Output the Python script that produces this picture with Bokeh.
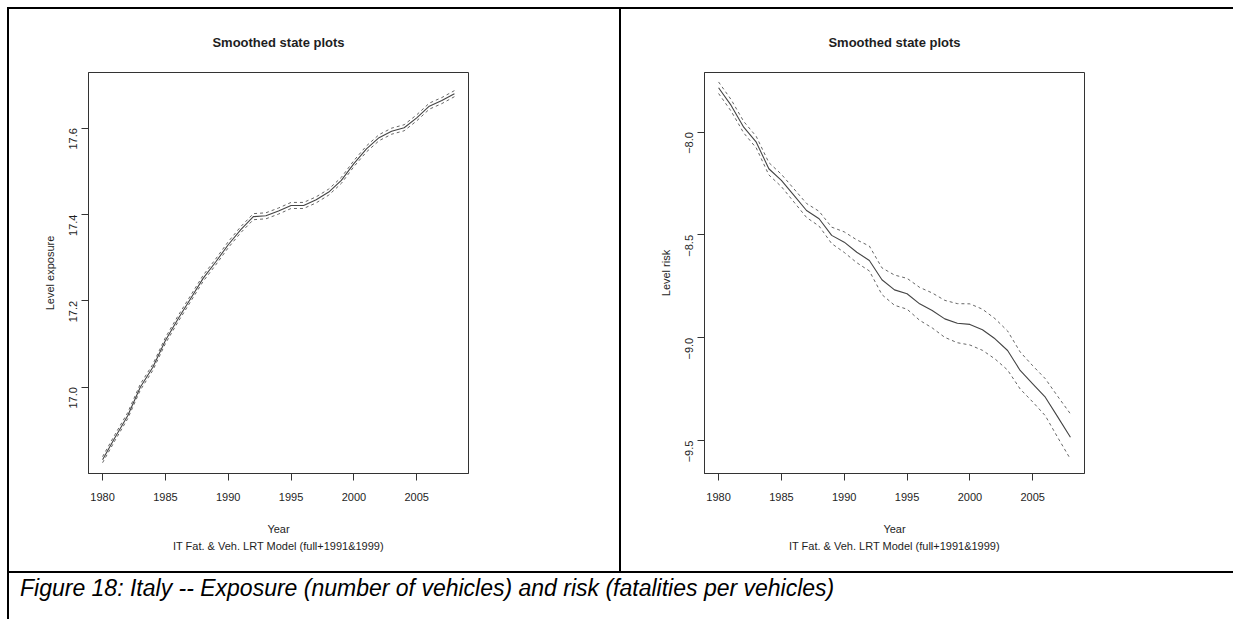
import math
from bokeh.plotting import figure
from bokeh.models import FixedTicker, Title, Div, Spacer, Range1d
from bokeh.layouts import column, row
from bokeh.embed import file_html
from bokeh.resources import INLINE

# ---------------- data ----------------
years = list(range(1980, 2009))

exposure_level = [16.832, 16.884, 16.934, 17.000, 17.046, 17.108, 17.158, 17.205, 17.252, 17.290,
                  17.330, 17.365, 17.395, 17.397, 17.408, 17.421, 17.421, 17.434, 17.452, 17.479,
                  17.518, 17.552, 17.578, 17.593, 17.601, 17.624, 17.651, 17.664, 17.680]
exposure_upper = [16.839, 16.891, 16.941, 17.007, 17.053, 17.115, 17.165, 17.212, 17.259, 17.297,
                  17.337, 17.372, 17.402, 17.404, 17.415, 17.428, 17.428, 17.441, 17.459, 17.486,
                  17.525, 17.559, 17.585, 17.600, 17.608, 17.631, 17.658, 17.671, 17.687]
exposure_lower = [16.825, 16.877, 16.927, 16.993, 17.039, 17.101, 17.151, 17.198, 17.245, 17.283,
                  17.323, 17.358, 17.388, 17.390, 17.401, 17.414, 17.414, 17.427, 17.445, 17.472,
                  17.511, 17.545, 17.571, 17.586, 17.594, 17.617, 17.644, 17.657, 17.673]

risk_level = [-7.784, -7.870, -7.976, -8.049, -8.178, -8.235, -8.308, -8.381, -8.421, -8.502,
              -8.535, -8.584, -8.624, -8.718, -8.767, -8.786, -8.835, -8.867, -8.908, -8.929,
              -8.935, -8.961, -9.005, -9.062, -9.159, -9.224, -9.289, -9.386, -9.484]
risk_upper = [-7.756, -7.842, -7.948, -8.021, -8.148, -8.205, -8.276, -8.347, -8.385, -8.462,
              -8.485, -8.524, -8.554, -8.660, -8.695, -8.711, -8.755, -8.782, -8.818, -8.834,
              -8.835, -8.861, -8.907, -8.967, -9.069, -9.136, -9.199, -9.286, -9.370]
risk_lower = [-7.812, -7.898, -8.004, -8.077, -8.208, -8.265, -8.340, -8.415, -8.457, -8.542,
              -8.585, -8.635, -8.675, -8.790, -8.842, -8.861, -8.915, -8.952, -8.998, -9.024,
              -9.035, -9.061, -9.103, -9.157, -9.249, -9.312, -9.379, -9.486, -9.590]

x_ticks = [1980, 1985, 1990, 1995, 2000, 2005]
exposure_ticks = [17.0, 17.2, 17.4, 17.6]
exposure_tick_labels = ["17.0", "17.2", "17.4", "17.6"]
risk_ticks = [-9.5, -9.0, -8.5, -8.0]
risk_tick_labels = ["\u22129.5", "\u22129.0", "\u22128.5", "\u22128.0"]

title_text = "Smoothed state plots"
x_label = "Year"
sub_label = "IT Fat. & Veh. LRT Model (full+1991&1999)"
caption = "Figure 18: Italy -- Exposure (number of vehicles) and risk (fatalities per vehicles)"

FONT = "Liberation Sans"
TXT = "#1e1e1e"
AX = "#333333"


def panel(level, upper, lower, ylabel, yticks, ylabels, yr, width, left, right):
    p = figure(width=width, height=562,
               x_range=Range1d(1978.88, 2009.12), y_range=Range1d(*yr),
               output_backend="svg", toolbar_location=None,
               min_border_left=left, min_border_right=right,
               min_border_top=63, min_border_bottom=98,
               background_fill_color="white", border_fill_color="white")
    p.title.text = title_text
    p.title.text_font = FONT
    p.title.text_font_size = "13px"
    p.title.text_font_style = "bold"
    p.title.text_color = TXT
    p.title.align = "center"
    p.title.standoff = 46

    p.line(years, level, line_color="#444444", line_width=1.1)
    p.line(years, upper, line_color="#666666", line_width=1, line_dash="3 3")
    p.line(years, lower, line_color="#666666", line_width=1, line_dash="3 3")

    p.xgrid.visible = False
    p.ygrid.visible = False
    p.outline_line_color = AX
    p.outline_line_width = 1

    for ax in (p.xaxis[0], p.yaxis[0]):
        ax.axis_line_color = AX
        ax.major_tick_line_color = AX
        ax.major_tick_out = 7
        ax.major_tick_in = 0
        ax.minor_tick_line_color = None
        ax.major_label_text_font = FONT
        ax.major_label_text_font_size = "11px"
        ax.major_label_text_color = TXT
        ax.axis_label_text_font = FONT
        ax.axis_label_text_font_size = "11px"
        ax.axis_label_text_font_style = "normal"
        ax.axis_label_text_color = TXT

    p.xaxis.ticker = FixedTicker(ticks=x_ticks)
    p.xaxis.major_label_standoff = 12
    p.xaxis.axis_label = x_label
    p.xaxis.axis_label_standoff = 19
    p.xaxis.axis_label_text_line_height = 1.0

    p.yaxis.ticker = FixedTicker(ticks=yticks)
    p.yaxis.major_label_overrides = {t: s for t, s in zip(yticks, ylabels)}
    p.yaxis.major_label_orientation = math.pi / 2
    p.yaxis.major_label_standoff = 8
    p.yaxis.axis_label = ylabel
    p.yaxis.axis_label_standoff = 7

    sub = Title(text=sub_label, align="center", text_font=FONT, text_font_size="11px",
                text_font_style="normal", text_color=TXT, standoff=0, text_line_height=1.0)
    p.add_layout(sub, "below")
    return p


p1 = panel(exposure_level, exposure_upper, exposure_lower, "Level exposure",
           exposure_ticks, exposure_tick_labels, (16.80, 17.729), 610, 79, 151)
p2 = panel(risk_level, risk_upper, risk_lower, "Level risk",
           risk_ticks, risk_tick_labels, (-9.66, -7.71), 600, 83, 137)


def bar(w, h, color="black"):
    return Div(text="", width=w, height=h, margin=0, styles={"background-color": color})


def gap(w, h):
    return Spacer(width=w, height=h, margin=0)


cap_div = Div(text=caption, width=1224, height=46, margin=0,
              styles={"font-family": "'Liberation Sans', Arial, sans-serif",
                      "font-style": "italic", "font-size": "23px", "color": "#000",
                      "padding-left": "11px", "padding-top": "2px", "box-sizing": "border-box",
                      "white-space": "nowrap", "line-height": "26px"})

layout = column(
    gap(1233, 7),
    row(gap(7, 2), bar(1226, 2), spacing=0),
    row(gap(7, 562), bar(2, 562), p1, bar(2, 562), p2, bar(12, 562, "white"), spacing=0),
    row(gap(7, 2), bar(1226, 2), spacing=0),
    row(gap(7, 46), bar(2, 46), cap_div, spacing=0),
    spacing=0,
)

open("out.html", "w").write(file_html(layout, INLINE))
